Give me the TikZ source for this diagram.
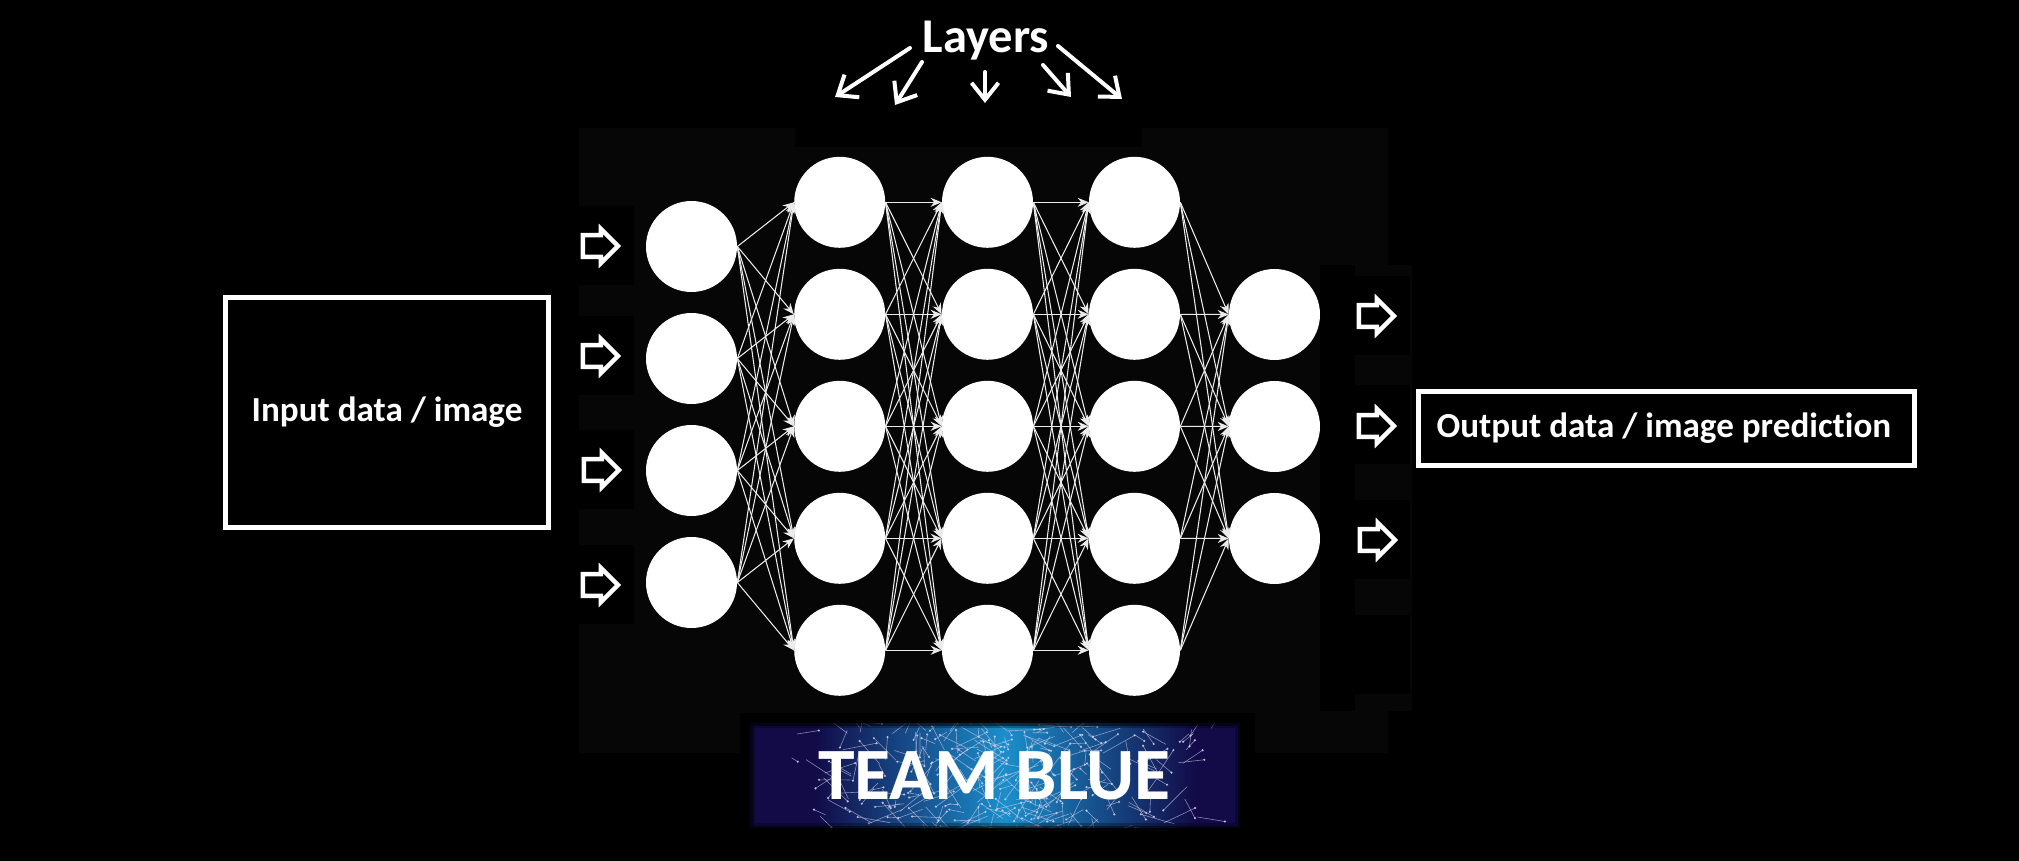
\documentclass[tikz,border=0pt]{standalone}
\usepackage{fontspec}
\setmainfont{Carlito}[Ligatures=NoCommon]
\usepackage{xcolor}
\usetikzlibrary{
  arrows.meta,
  shapes.arrows
}
\definecolor{bgsoft}{HTML}{060606}
\definecolor{bannernavy}{HTML}{120B48}
\definecolor{bannerblue}{HTML}{1A8FCB}
\definecolor{netline}{HTML}{D6CFEA}
\tikzset{
  neuron/.style={
    circle,
    fill=white,
    inner sep=0pt,
    minimum size=1.82cm
  },
  link/.style={-{Stealth[length=2.2mm,width=1.8mm]}, line width=0.6pt, draw=white!92!black},
  blockarr/.style={
    single arrow,
    draw=white,
    line width=0.09cm,
    fill=black,
    inner xsep=0pt,
    inner ysep=0.1cm,
    minimum height=0.70cm,
    minimum width=0.68cm,
    single arrow head extend=0.08cm
  },
  databox/.style={
    draw=white,
    line width=0.1cm,
    align=center,
    text=white,
    inner sep=0pt,
    font=\fontsize{20}{24}\selectfont\bfseries
  },
  handarr/.style={
    -{Straight Barb[length=3.4mm,width=5.4mm]},
    line width=0.08cm,
    line cap=round,
    draw=white
  },
  layerlabel/.style={
    text=white,
    inner sep=0pt,
    font=\fontsize{27.6}{32}\selectfont\bfseries
  },
  bannertext/.style={
    text=white,
    inner sep=0pt,
    font=\fontsize{42}{48}\selectfont\bfseries
  },
}

\begin{document}
\begin{tikzpicture}[x=0.02cm, y=-0.02cm]

  % Page and the faint panel behind the network
  \fill[black] (0,0) rectangle (2019,861);
  \useasboundingbox (0,0) rectangle (2019,861);
  \fill[bgsoft] (579,128) rectangle (1388,753);
  \fill[bgsoft] (1388,265) rectangle (1412,711);
  \fill[black] (795,128) rectangle (1142,147);
  \fill[black] (740,713) rectangle (1255,753);
  \fill[black] (1320,265) rectangle (1355,711);
  \fill[black] (1388,711) rectangle (1412,753);
  \foreach \y in {206,316,430,545}
    \fill[black] (579,\y) rectangle (634,\y+79);
  \foreach \y in {276,385,500,615}
    \fill[black] (1355,\y) rectangle (1410,\y+79);

  % Input and output boxes
  \node[databox, minimum width=6.46cm, minimum height=4.6cm] (inbox)
    at (387,412.5) {\raisebox{-1.5pt}{Input data / image}};
  \node[databox, minimum width=9.92cm, minimum height=1.48cm] (outbox)
    at (1666.5,428.5) {Output data / image prediction\kern3pt};

  % Network layers
  \foreach \k/\y in {1/246.5,2/358.5,3/470.5,4/582.5}
    \node[neuron] (A\k) at (691.5,\y) {};
  \foreach \k/\y in {1/202.3,2/314.3,3/426.3,4/538.3,5/650.3}{
    \node[neuron] (B\k) at (839.7,\y) {};
    \node[neuron] (C\k) at (987.5,\y) {};
    \node[neuron] (D\k) at (1134.5,\y) {};
  }
  \foreach \k/\y in {1/314.5,2/426.5,3/538.5}
    \node[neuron] (E\k) at (1274.5,\y) {};

  % Links between the layers
  \foreach \i in {1,...,4}
    \foreach \j in {1,...,5}
      \draw[link] (A\i.east) -- (B\j.west);
  \foreach \i in {1,...,5}
    \foreach \j in {1,...,5}{
      \draw[link] (B\i.east) -- (C\j.west);
      \draw[link] (C\i.east) -- (D\j.west);
    }
  \foreach \i in {1,...,5}
    \foreach \j in {1,...,3}
      \draw[link] (D\i.east) -- (E\j.west);

  % Block arrows, in and out
  \foreach \k/\x/\y in {1/595/246,2/595/356,3/596/470,4/595/585}
    \node[blockarr] (inarr\k) at (\x,\y) {};
  \foreach \k/\x/\y in {1/1371/316,2/1371/426,3/1372/540}
    \node[blockarr] (outarr\k) at (\x,\y) {};

  % Title with its hand drawn arrows
  \node[layerlabel, anchor=base] (layers) at (986,53) {Layers};
  \foreach \n/\x/\y in {1/835/97,2/895/105,3/985/103,4/1071/97,5/1122/99}
    \coordinate (tip\n) at (\x,\y);
  \draw[handarr] ([shift={(-76,-5)}]layers.base) -- (tip1);
  \draw[handarr] ([shift={(-64,9)}]layers.base) -- (tip2);
  \draw[handarr] ([shift={(-1,19)}]layers.base) -- (tip3);
  \draw[handarr] ([shift={(57,12)}]layers.base) -- (tip4);
  \draw[handarr] ([shift={(72,-7)}]layers.base) -- (tip5);

  % Banner
  \begin{scope}
    \clip (748,721) rectangle (1242,830);
    \fill[bannernavy] (748,721) rectangle (1242,830);
    \shade[left color=bannernavy, right color=bannerblue] (815,721) rectangle (1005,830);
    \shade[left color=bannerblue, right color=bannernavy] (1005,721) rectangle (1195,830);
    \pgfmathsetseed{4217}
    \foreach \k in {1,...,280}{
      \pgfmathsetmacro{\ax}{1000+245*rand*(0.3+0.7*rnd)}
      \pgfmathsetmacro{\ay}{775+54*rand}
      \pgfmathsetmacro{\bx}{\ax+34*rand}
      \pgfmathsetmacro{\by}{\ay+26*rand}
      \draw[netline, opacity=0.6, line width=0.35pt] (\ax,\ay) -- (\bx,\by);
      \fill[netline, opacity=0.85] (\bx,\by) circle (1.2);
    }
  \end{scope}
  % Soft edge of the banner
  \draw[black, opacity=0.3, line width=0.28cm] (748,721) rectangle (1242,830);
  \draw[black, opacity=0.5, line width=0.18cm] (748,721) rectangle (1242,830);
  \draw[black, opacity=0.85, line width=0.09cm] (748,721) rectangle (1242,830);
  \node[bannertext, anchor=base] (team) at (994.5,799) {TEAM BLUE};

\end{tikzpicture}
\end{document}
